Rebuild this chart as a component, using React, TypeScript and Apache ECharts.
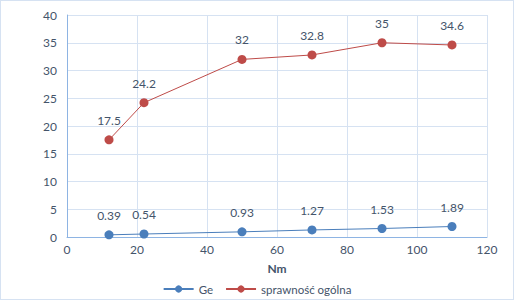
import React, { useEffect, useRef } from "react";
import * as echarts from "echarts";

const xValues = [12, 22, 50, 70, 90, 110];
const geValues = [0.39, 0.54, 0.93, 1.27, 1.53, 1.89];
const sprawnoscValues = [17.5, 24.2, 32, 32.8, 35, 34.6];
const seriesNames = ["Ge", "sprawność ogólna"];
const xAxisName = "Nm";

const textColor = "#44546A";
const font = "Lato, Carlito, 'Liberation Sans', sans-serif";

export default function App() {
  const ref = useRef<HTMLDivElement>(null);
  useEffect(() => {
    document.body.style.margin = "0";
    const chart = echarts.init(ref.current!, null, { renderer: "svg" });
    const mk = (vals: number[]) => xValues.map((x, i) => [x, vals[i]]);
    chart.setOption({
      animation: false,
      textStyle: { fontFamily: font },
      grid: { left: 66, right: 26, top: 14, bottom: 62 },
      legend: {
        top: 277,
        left: "center",
        itemWidth: 30,
        itemHeight: 9,
        itemGap: 12,
        textStyle: { color: textColor, fontSize: 11.5, fontFamily: font },
        data: seriesNames,
      },
      xAxis: {
        type: "value",
        min: 0,
        max: 120,
        interval: 20,
        name: xAxisName,
        nameLocation: "middle",
        nameGap: 25,
        nameTextStyle: { color: textColor, fontWeight: "bold", fontSize: 12, fontFamily: font },
        axisLine: { show: true, lineStyle: { color: "#8EB4E3", width: 1 } },
        axisTick: { show: false },
        axisLabel: { color: textColor, fontSize: 12, margin: 6, fontFamily: font },
        splitLine: { show: true, lineStyle: { color: "#D6E2F2", width: 1 } },
      },
      yAxis: {
        type: "value",
        min: 0,
        max: 40,
        interval: 5,
        axisLine: { show: true, lineStyle: { color: "#8EB4E3", width: 1 } },
        axisTick: { show: false },
        axisLabel: { color: textColor, fontSize: 12, margin: 10, fontFamily: font },
        splitLine: { show: true, lineStyle: { color: "#D6E2F2", width: 1 } },
      },
      series: [
        {
          name: seriesNames[0],
          type: "line",
          data: mk(geValues),
          symbol: "circle",
          symbolSize: 9,
          itemStyle: { color: "#4A7EBB" },
          lineStyle: { color: "#4A7EBB", width: 1 },
          label: { show: true, position: "top", distance: 9, color: textColor, fontSize: 12, fontFamily: font },
        },
        {
          name: seriesNames[1],
          type: "line",
          data: mk(sprawnoscValues),
          symbol: "circle",
          symbolSize: 9,
          itemStyle: { color: "#BE4B48" },
          lineStyle: { color: "#BE4B48", width: 1 },
          label: { show: true, position: "top", distance: 9, color: textColor, fontSize: 12, fontFamily: font },
        },
      ],
    });
    return () => chart.dispose();
  }, []);
  return (
    <div
      style={{
        position: "absolute",
        left: 0,
        top: 0,
        width: 512,
        height: 298,
        border: "1px solid #D6E2F2",
      }}
    >
      <div ref={ref} style={{ width: 512, height: 298 }} />
    </div>
  );
}
